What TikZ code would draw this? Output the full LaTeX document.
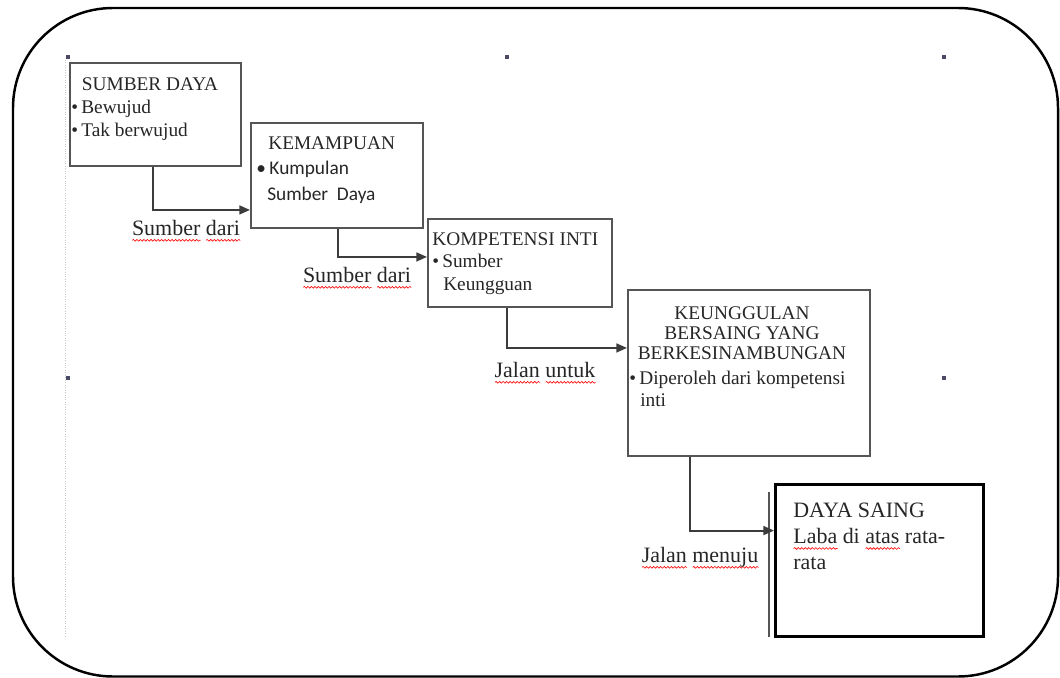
\documentclass[tikz,border=0pt]{standalone}
\usepackage{fontspec}
\setmainfont{Liberation Serif}
\newfontfamily\calibrifont{Carlito}
\usepackage{xcolor}
\usepackage{tikz}
\usetikzlibrary{arrows.meta,positioning,calc,decorations.pathmorphing}

\definecolor{boxgray}{HTML}{555555}
\definecolor{linegray}{HTML}{3C3C3C}
\definecolor{gripblue}{HTML}{4A4A66}

\newlength\spellwd
\newcommand\spellerr[1]{\settowidth\spellwd{#1}%
  \rlap{\raisebox{-2.6pt}{\tikz[baseline=0pt]\draw[red, line width=0.35pt,
    decorate, decoration={snake, amplitude=0.5pt, segment length=2pt}]
    (0pt,0pt) -- (\spellwd,0pt);}}#1}

\begin{document}
\begin{tikzpicture}[x=0.02cm, y=-0.02cm,
  box/.style={draw=boxgray, line width=1.1pt, rectangle,
    anchor=north west, inner sep=0pt},
  goal/.style={box, draw=black, line width=1.8pt},
  txt/.style={anchor=north west, inner sep=0pt, align=left,
    text=black!85, font=\fontsize{11}{13.3}\selectfont},
  lbl/.style={inner sep=0pt, text=black!85, font=\fontsize{12.5}{15}\selectfont},
  conn/.style={draw=linegray, line width=1.1pt,
    -{Triangle[length=6pt,width=5pt]}}]
  \useasboundingbox (0,0) rectangle (1060,678);
  % Frame
  \draw[line width=1.4pt, rounded corners=2cm] (13,8) rectangle (1058,676.5);
  \draw[gray!45, densely dotted] (65,60) -- (65,637);
  \foreach \gx/\gy in {68/57, 507/57, 944/57, 68/378, 944/378}
    \fill[gripblue] (\gx-2,\gy-2) rectangle (\gx+2,\gy+2);
  % Boxes
  \node[box, minimum width=3.42cm, minimum height=2.06cm] (sd) at (69,62) {};
  \node[box, minimum width=3.44cm, minimum height=2.10cm] (km) at (250,122) {};
  \node[box, minimum width=3.68cm, minimum height=1.76cm] (ki) at (427,218) {};
  \node[box, minimum width=4.84cm, minimum height=3.32cm] (kb) at (627,289) {};
  \draw[boxgray, line width=0.8pt] (769,492) -- (769,637);
  \node[goal, minimum width=4.16cm, minimum height=3.04cm] (ds) at (774,483) {};
  % Box texts
  \node[txt] (sd-t) at (71,77)
    {\hspace{6pt}SUMBER DAYA\\ \textbullet\,Bewujud\\ \textbullet\,Tak berwujud};
  \node[txt, font=\fontsize{11}{14.5}\selectfont] (km-t) at (256,136)
    {\hspace{6.8pt}KEMAMPUAN\\ {\calibrifont\textbullet\hspace{2pt}Kumpulan}\\
     {\calibrifont\hspace{6.2pt}Sumber\ \ Daya}};
  \node[txt, font=\fontsize{11}{12.8}\selectfont] (ki-t) at (432,232)
    {KOMPETENSI INTI\\ \textbullet\,Sumber\\ \hspace{6.2pt}Keungguan};
  \node[txt, anchor=north, align=center, font=\fontsize{11}{11.4}\selectfont] (kb-h) at (742,306)
    {KEUNGGULAN\\ BERSAING YANG\\ BERKESINAMBUNGAN};
  \node[txt, font=\fontsize{11}{12.5}\selectfont] (kb-t) at (629,371)
    {\textbullet\,Diperoleh dari kompetensi\\ \hspace{6.2pt}inti};
  \node[txt, font=\fontsize{12.5}{14.8}\selectfont] (ds-t) at (793,503)
    {DAYA SAING\\ \spellerr{Laba} di \spellerr{atas} rata-\\ rata};
  % Connectors
  \draw[conn] ([xshift=1.68cm]sd.south west) |- ([yshift=-0.69cm]km.west);
  \draw[conn] ([xshift=1.76cm]km.south west) |- ([yshift=0.12cm]ki.west);
  \draw[conn] ([xshift=1.6cm]ki.south west) |- ([yshift=0.5cm]kb.west);
  \draw[conn] ([xshift=1.26cm]kb.south west) |- ([yshift=0.6cm]ds.west);
  % Labels
  \node[lbl] (l-sd) at (186,231) {\spellerr{Sumber} \spellerr{dari}};
  \node[lbl] (l-km) at (357,278) {\spellerr{Sumber} \spellerr{dari}};
  \node[lbl] (l-ki) at (545,373) {\spellerr{Jalan} \spellerr{untuk}};
  \node[lbl] (l-kb) at (700,558) {\spellerr{Jalan} \spellerr{menuju}};
\end{tikzpicture}
\end{document}
